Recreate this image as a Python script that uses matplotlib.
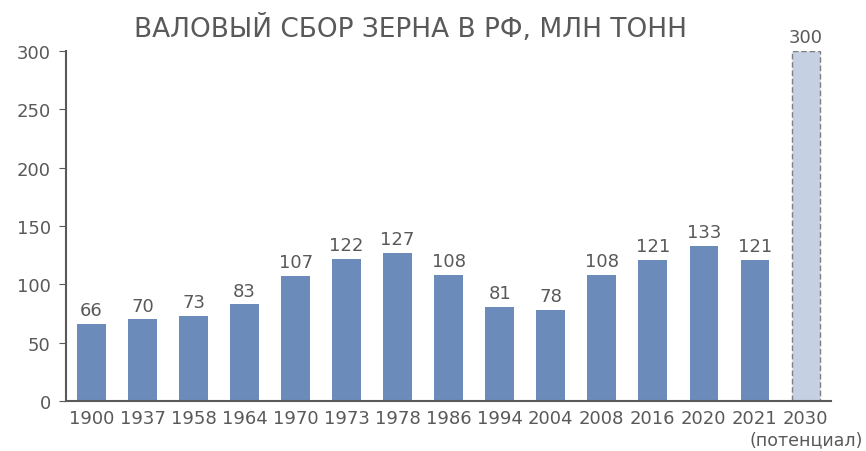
import matplotlib.pyplot as plt

years = ["1900", "1937", "1958", "1964", "1970", "1973", "1978", "1986",
         "1994", "2004", "2008", "2016", "2020", "2021", "2030"]
harvest = [66, 70, 73, 83, 107, 122, 127, 108, 81, 78, 108, 121, 133, 121, 300]
note = "(потенциал)"

GRAY = "#595959"
BAR = "#6b8cba"
FUTURE = "#c5d0e3"

plt.rcParams["font.family"] = "DejaVu Sans"

fig = plt.figure(figsize=(8.66, 4.52), dpi=100)
ax = fig.add_axes([0.0762, 0.1106, 0.8838, 0.7744])

x = list(range(len(years)))
colors = [BAR] * (len(years) - 1) + [FUTURE]
bars = ax.bar(x, harvest, width=0.56, color=colors, zorder=2)
last = bars[-1]
last.set_edgecolor("#7f7f7f")
last.set_linestyle((0, (4, 2)))
last.set_linewidth(1.0)

for xi, v in zip(x, harvest):
    ax.text(xi, v + 4, str(v), ha="center", va="bottom", fontsize=13, color=GRAY)

ax.set_xlim(-0.5, len(years) - 0.5)
ax.set_ylim(0, 300)
ax.set_yticks([0, 50, 100, 150, 200, 250, 300])
ax.set_xticks(x)
ax.set_xticklabels(years)

# second line under the last category
ax.annotate(note, xy=(x[-1], 0), xycoords=ax.get_xaxis_transform(),
            xytext=(0, -21), textcoords="offset points", ha="center", va="top",
            fontsize=12.5, color=GRAY)

for s in ["top", "right"]:
    ax.spines[s].set_visible(False)
for s in ["left", "bottom"]:
    ax.spines[s].set_color(GRAY)
    ax.spines[s].set_linewidth(1.5)

ax.tick_params(axis="y", length=5, color=GRAY, labelcolor=GRAY, labelsize=13, pad=6)
ax.tick_params(axis="x", length=0, labelcolor=GRAY, labelsize=13, pad=6)

fig.text(0.474, 0.935, "ВАЛОВЫЙ СБОР ЗЕРНА В РФ, МЛН ТОНН", ha="center", va="center",
         fontsize=19, color=GRAY)

fig.savefig("out.png", dpi=100)
